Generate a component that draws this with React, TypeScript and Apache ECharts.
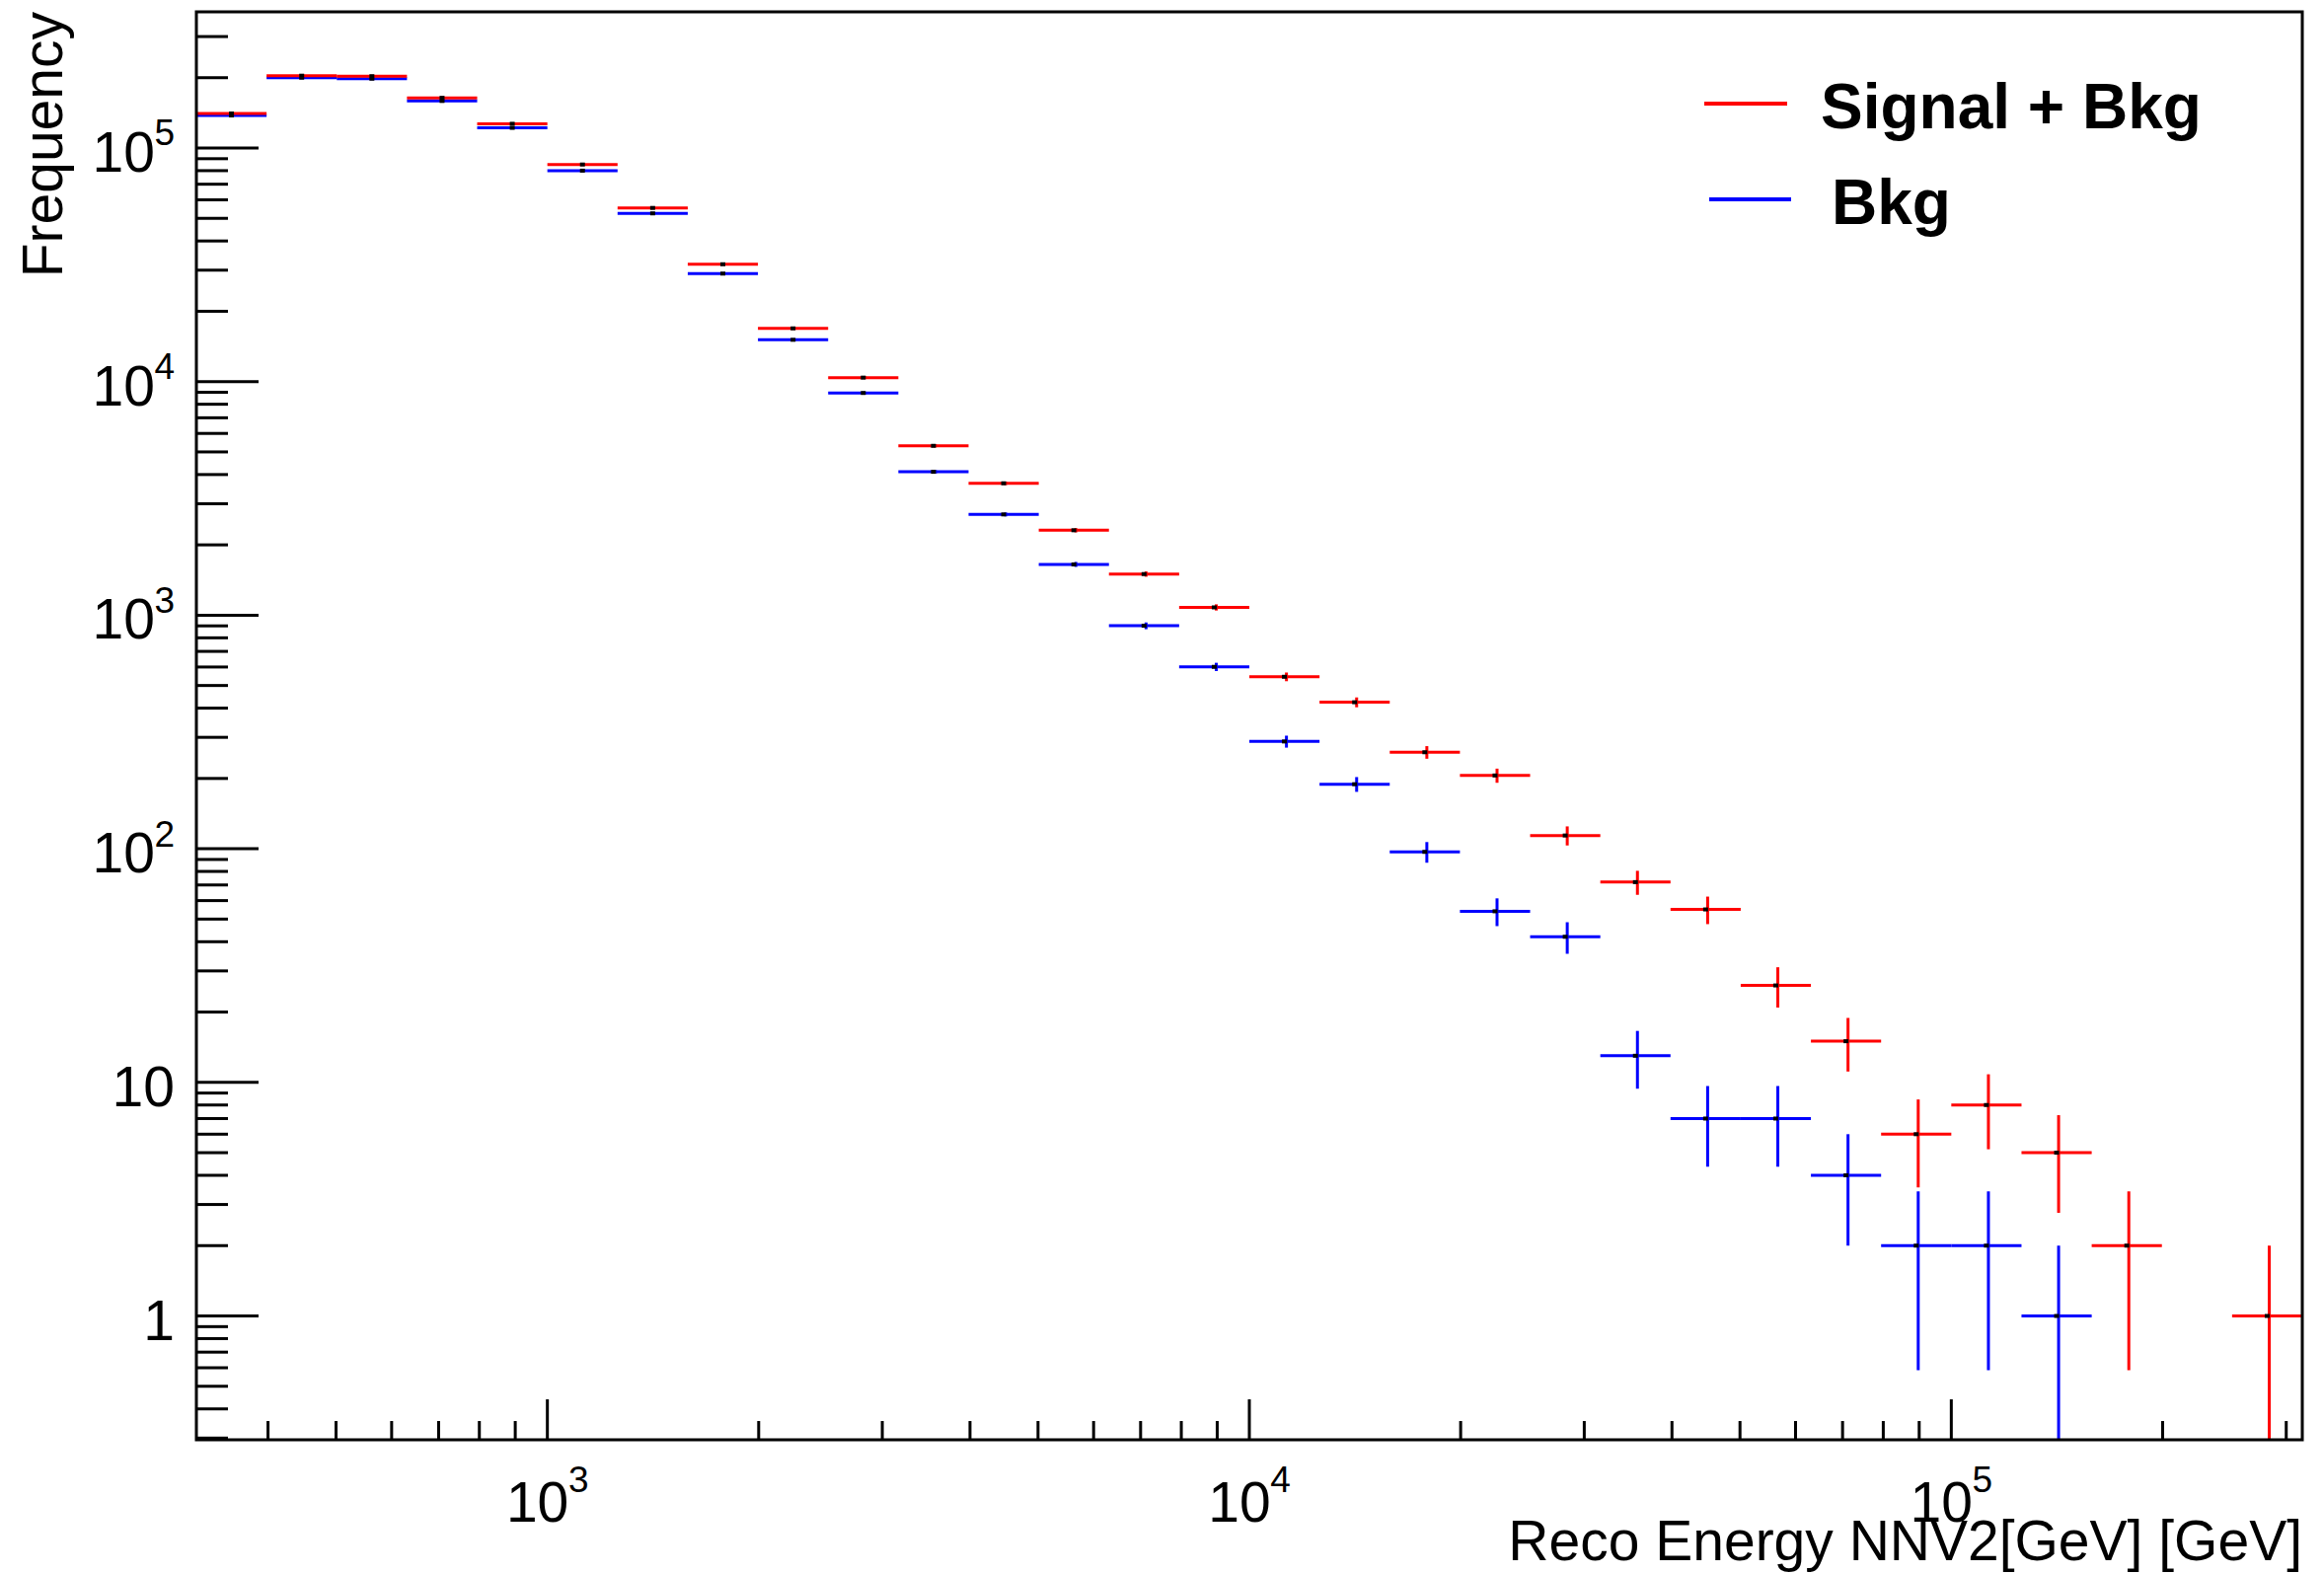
import { useEffect, useRef } from "react";
import * as echarts from "echarts";

// Histogram bin edges (30 log-spaced bins, GeV)
const binEdges = [
  316.23, 398.11, 501.19, 630.96, 794.33, 1000, 1258.93, 1584.89, 1995.26, 2511.89,
  3162.28, 3981.07, 5011.87, 6309.57, 7943.28, 10000, 12589.3, 15848.9, 19952.6, 25118.9,
  31622.8, 39810.7, 50118.7, 63095.7, 79432.8, 100000, 125893, 158489, 199526, 251189, 316228,
];

// Bin contents
const signalPlusBkg = [
  140600, 204000, 203000, 164000, 127000, 85000, 55400, 31800, 16900, 10400,
  5310, 3670, 2310, 1500, 1080, 545, 424, 259, 206, 114,
  72, 55, 26, 15, 6, 8, 5, 2, 0, 1,
];
const bkg = [
  137800, 200000, 198000, 159000, 122000, 80000, 52500, 29000, 15100, 8940,
  4110, 2700, 1650, 901, 601, 288, 189, 97, 54, 42,
  13, 7, 7, 4, 2, 2, 1, 0, 0, 0,
];

// Axis ticks and labels
const xMajorTicks = [1000, 10000, 100000];
const xMinorTicks = [
  400, 500, 600, 700, 800, 900,
  2000, 3000, 4000, 5000, 6000, 7000, 8000, 9000,
  20000, 30000, 40000, 50000, 60000, 70000, 80000, 90000,
  200000, 300000,
];
const yMajorTicks = [1, 10, 100, 1000, 10000, 100000];
const yMinorTicks = [
  0.3, 0.4, 0.5, 0.6, 0.7, 0.8, 0.9,
  2, 3, 4, 5, 6, 7, 8, 9,
  20, 30, 40, 50, 60, 70, 80, 90,
  200, 300, 400, 500, 600, 700, 800, 900,
  2000, 3000, 4000, 5000, 6000, 7000, 8000, 9000,
  20000, 30000, 40000, 50000, 60000, 70000, 80000, 90000,
  200000, 300000,
];
const xLabelValues = [1000, 10000, 100000];
const xLabelBase = ["10", "10", "10"];
const xLabelExp = ["3", "4", "5"];
const yLabelValues = [1, 10, 100, 1000, 10000, 100000];
const yLabelBase = ["1", "10", "10", "10", "10", "10"];
const yLabelExp = ["", "", "2", "3", "4", "5"];

const seriesNames = ["Signal + Bkg", "Bkg"];
const xTitle = "Reco Energy NNV2[GeV] [GeV]";
const yTitle = "Frequency";

const X_MIN = 316.2278;
const X_MAX = 316227.8;
const Y_MIN = 0.295;
const Y_MAX = 382800;

const FONT = '"Liberation Sans", Arial, Helvetica, sans-serif';
const RED = "#ff0000";
const BLUE = "#0000ff";

function histData(values: number[]) {
  const out: number[][] = [];
  values.forEach((v, i) => {
    if (v > 0) {
      const lo = binEdges[i];
      const hi = binEdges[i + 1];
      const err = Math.sqrt(v);
      out.push([
        (lo + hi) / 2,
        v,
        lo,
        hi,
        Math.max(v - err, Y_MIN),
        Math.min(v + err, Y_MAX),
        Math.sqrt(lo * hi),
      ]);
    }
  });
  return out;
}

function makeHistRender(color: string) {
  return (params: any, api: any) => {
    const c = api.value(0);
    const v = api.value(1);
    const lo = api.value(2);
    const hi = api.value(3);
    const eLo = api.value(4);
    const eHi = api.value(5);
    const gc = api.value(6);
    const pL = api.coord([lo, v]);
    const pR = api.coord([hi, v]);
    const pB = api.coord([c, eLo]);
    const pT = api.coord([c, eHi]);
    const pC = api.coord([c, v]);
    const pG = api.coord([gc, v]);
    return {
      type: "group",
      children: [
        {
          type: "line",
          shape: { x1: pL[0], y1: pL[1], x2: pR[0], y2: pR[1] },
          style: { stroke: color, lineWidth: 3, lineCap: "butt" },
        },
        {
          type: "line",
          shape: { x1: pC[0], y1: pT[1], x2: pC[0], y2: pB[1] },
          style: { stroke: color, lineWidth: 3, lineCap: "butt" },
        },
        {
          type: "rect",
          shape: { x: pG[0] - 2.5, y: pG[1] - 2, width: 5, height: 4 },
          style: { fill: "#000" },
        },
      ],
    };
  };
}

export default function App() {
  const ref = useRef<HTMLDivElement>(null);

  useEffect(() => {
    if (!ref.current) return;
    const chart = echarts.init(ref.current, undefined, { renderer: "svg" });

    const xTickData = [
      ...xMajorTicks.map((v) => [v, Y_MIN, 41]),
      ...xMinorTicks.map((v) => [v, Y_MIN, 19]),
    ];
    const yTickData = [
      ...yMajorTicks.map((v) => [X_MIN, v, 63]),
      ...yMinorTicks.map((v) => [X_MIN, v, 32]),
    ];

    const option: any = {
      animation: false,
      backgroundColor: "#ffffff",
      grid: { left: 199, top: 12, right: 22, bottom: 136, containLabel: false },
      xAxis: {
        type: "log",
        logBase: 10,
        min: X_MIN,
        max: X_MAX,
        axisLine: { show: false },
        axisTick: { show: false },
        axisLabel: { show: false },
        splitLine: { show: false },
        minorTick: { show: false },
      },
      yAxis: {
        type: "log",
        logBase: 10,
        min: Y_MIN,
        max: Y_MAX,
        axisLine: { show: false },
        axisTick: { show: false },
        axisLabel: { show: false },
        splitLine: { show: false },
        minorTick: { show: false },
      },
      series: [
        {
          name: seriesNames[0],
          type: "custom",
          renderItem: makeHistRender(RED),
          data: histData(signalPlusBkg),
          encode: { x: 0, y: 1 },
          z: 3,
        },
        {
          name: seriesNames[1],
          type: "custom",
          renderItem: makeHistRender(BLUE),
          data: histData(bkg),
          encode: { x: 0, y: 1 },
          z: 2,
        },
        {
          name: "xticks",
          type: "custom",
          data: xTickData,
          encode: { x: 0, y: 1 },
          z: 5,
          renderItem: (params: any, api: any) => {
            const p = api.coord([api.value(0), api.value(1)]);
            const len = api.value(2);
            return {
              type: "line",
              shape: { x1: p[0], y1: p[1], x2: p[0], y2: p[1] - len },
              style: { stroke: "#000", lineWidth: 3 },
            };
          },
        },
        {
          name: "yticks",
          type: "custom",
          data: yTickData,
          encode: { x: 0, y: 1 },
          z: 5,
          renderItem: (params: any, api: any) => {
            const p = api.coord([api.value(0), api.value(1)]);
            const len = api.value(2);
            return {
              type: "line",
              shape: { x1: p[0], y1: p[1], x2: p[0] + len, y2: p[1] },
              style: { stroke: "#000", lineWidth: 3 },
            };
          },
        },
        {
          name: "xlabels",
          type: "custom",
          data: xLabelValues.map((v, i) => [v, Y_MIN, i]),
          encode: { x: 0, y: 1 },
          z: 5,
          renderItem: (params: any, api: any) => {
            const i = api.value(2);
            const p = api.coord([api.value(0), api.value(1)]);
            const baseW = 63;
            const expW = xLabelExp[i] ? 20.5 : 0;
            const left = p[0] - (baseW + expW) / 2;
            return {
              type: "group",
              children: [
                {
                  type: "text",
                  style: {
                    text: xLabelBase[i],
                    x: left,
                    y: p[1] + 63,
                    align: "left",
                    verticalAlign: "middle",
                    font: `57px ${FONT}`,
                    fill: "#000",
                  },
                },
                {
                  type: "text",
                  style: {
                    text: xLabelExp[i],
                    x: left + baseW,
                    y: p[1] + 40,
                    align: "left",
                    verticalAlign: "middle",
                    font: `37px ${FONT}`,
                    fill: "#000",
                  },
                },
              ],
            };
          },
        },
        {
          name: "ylabels",
          type: "custom",
          data: yLabelValues.map((v, i) => [X_MIN, v, i]),
          encode: { x: 0, y: 1 },
          z: 5,
          renderItem: (params: any, api: any) => {
            const i = api.value(2);
            const p = api.coord([api.value(0), api.value(1)]);
            const right = p[0] - 22;
            const expW = yLabelExp[i] ? 20 : 0;
            return {
              type: "group",
              children: [
                {
                  type: "text",
                  style: {
                    text: yLabelBase[i],
                    x: right - expW,
                    y: p[1] + 4,
                    align: "right",
                    verticalAlign: "middle",
                    font: `57px ${FONT}`,
                    fill: "#000",
                  },
                },
                {
                  type: "text",
                  style: {
                    text: yLabelExp[i],
                    x: right,
                    y: p[1] - 15,
                    align: "right",
                    verticalAlign: "middle",
                    font: `37px ${FONT}`,
                    fill: "#000",
                  },
                },
              ],
            };
          },
        },
      ],
      graphic: [
        {
          type: "rect",
          z: 100,
          shape: { x: 199, y: 12, width: 2134, height: 1447 },
          style: { fill: "none", stroke: "#000", lineWidth: 3 },
        },
        {
          type: "text",
          z: 100,
          x: 43,
          y: 12,
          rotation: Math.PI / 2,
          style: {
            text: yTitle,
            align: "right",
            verticalAlign: "middle",
            font: `57px ${FONT}`,
            fill: "#000",
          },
        },
        {
          type: "text",
          z: 100,
          style: {
            text: xTitle,
            x: 2333,
            y: 1561,
            align: "right",
            verticalAlign: "middle",
            font: `57px ${FONT}`,
            fill: "#000",
          },
        },
        {
          type: "line",
          z: 100,
          shape: { x1: 1727, y1: 105, x2: 1811, y2: 105 },
          style: { stroke: RED, lineWidth: 4 },
        },
        {
          type: "text",
          z: 100,
          style: {
            text: seriesNames[0],
            x: 1845,
            y: 108,
            align: "left",
            verticalAlign: "middle",
            font: `bold 64px ${FONT}`,
            fill: "#000",
          },
        },
        {
          type: "line",
          z: 100,
          shape: { x1: 1732, y1: 202, x2: 1815, y2: 202 },
          style: { stroke: BLUE, lineWidth: 4 },
        },
        {
          type: "text",
          z: 100,
          style: {
            text: seriesNames[1],
            x: 1856,
            y: 205,
            align: "left",
            verticalAlign: "middle",
            font: `bold 64px ${FONT}`,
            fill: "#000",
          },
        },
      ],
    };

    chart.setOption(option);
    return () => {
      chart.dispose();
    };
  }, []);

  return (
    <div
      ref={ref}
      style={{
        position: "fixed",
        left: 0,
        top: 0,
        width: "2355px",
        height: "1595px",
        background: "#ffffff",
      }}
    />
  );
}
